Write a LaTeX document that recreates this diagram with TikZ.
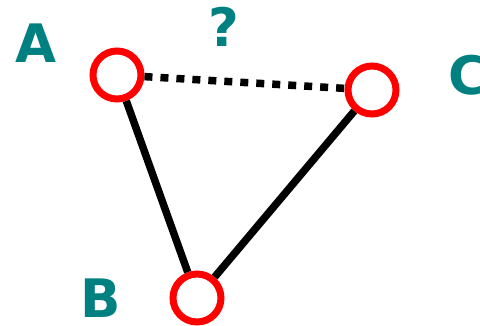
\documentclass[tikz,border=0pt]{standalone}
\usepackage{fontspec}
\newfontfamily\labelFont{DejaVu Sans}
\definecolor{labelTeal}{RGB}{0,128,128}
\newcommand{\myRings}{%%
  %% Draw the three rings.
  \node[ringStyle] (A) at (posA) {};
  \node[ringStyle] (B) at (posB) {};
  \node[ringStyle] (C) at (posC) {};
}
\newcommand{\myEdges}{%%
  %% Join the rings.
  \draw[lineStyle] (A) -- (B);
  \draw[lineStyle] (B) -- (C);
  \draw[lineStyle,dash pattern=on 8pt off 8pt] (A) -- (C);
}
\newcommand{\myLabels}{%%
  %% Name the rings.
  \node[labelStyle] (labA) at (36,62) {A};
  \node[labelStyle] (labB) at (101,317) {B};
  \node[labelStyle] (labC) at (468,94) {C};
  %% The unknown side.
  \node[labelStyle] (labQ) at (224,46) {?};
}

\begin{document}
\begin{tikzpicture}[%%
  x=1pt,y=-1pt,
  lineStyle/.style={-,line width=7.5pt},
  ringStyle/.style={draw=red,fill=white,line width=7pt,circle,
    minimum size=48pt,inner sep=0pt},
  labelStyle/.style={text=labelTeal,anchor=base,inner sep=0pt,
    font=\labelFont\bfseries\fontsize{53}{53}\selectfont}
]
\useasboundingbox (0,0) rectangle (480,325);
%%
%% Centres of the rings.
\coordinate (posA) at (117,75);
\coordinate (posB) at (197,298);
\coordinate (posC) at (372,90);
%%
\myRings
\myEdges
\myLabels
\end{tikzpicture}
\end{document}
